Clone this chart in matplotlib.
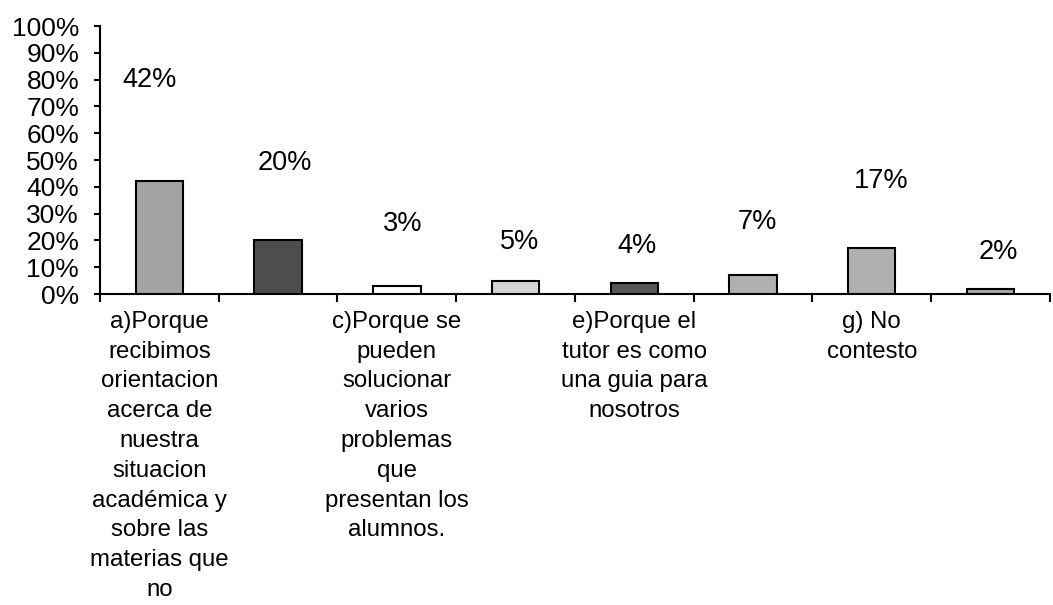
import matplotlib.pyplot as plt
import numpy as np

plt.rcParams['font.family'] = ['Liberation Sans', 'DejaVu Sans']

# data
categories = ['a', 'b', 'c', 'd', 'e', 'f', 'g', 'h']
values = [0.42, 0.20, 0.03, 0.05, 0.04, 0.07, 0.17, 0.02]
tick_labels = [
    "a)Porque\nrecibimos\norientacion\nacerca de\nnuestra\nsituacion\nacadémica y\nsobre las\nmaterias que\nno",
    "",
    "c)Porque se\npueden\nsolucionar\nvarios\nproblemas\nque\npresentan los\nalumnos.",
    "",
    "e)Porque el\ntutor es como\nuna guia para\nnosotros",
    "",
    "g) No\ncontesto",
    "",
]
bar_colors = ['#a3a3a3', '#4d4d4d', '#ffffff', '#d4d4d4', '#585858', '#b0b0b0', '#b0b0b0', '#a8a8a8']

# hand placed value labels (as in the original sheet)
label_y = [0.80, 0.49, 0.26, 0.195, 0.18, 0.27, 0.42, 0.157]
label_dx = [-0.08, 0.06, 0.05, 0.03, 0.02, 0.04, 0.08, 0.07]

fig = plt.figure(figsize=(10.53, 6.05), dpi=100)
ax = fig.add_axes([0.095, 0.514, 0.902, 0.443])

x = np.arange(len(categories))
ax.bar(x, values, width=0.4, color=bar_colors, edgecolor='black', linewidth=1.5, zorder=3)

for i, v in enumerate(values):
    ax.text(x[i] + label_dx[i], label_y[i], f"{round(v * 100)}%", ha='center', va='center', fontsize=19.5)

ax.set_xlim(-0.5, len(categories) - 0.5)
ax.set_ylim(0, 1)
ax.set_yticks(np.arange(0, 1.01, 0.1))
ax.set_yticklabels([f"{int(round(t * 100))}%" for t in np.arange(0, 1.01, 0.1)], fontsize=19)

# boundaries get the tick marks, centers get the labels
ax.set_xticks(np.arange(-0.5, len(categories), 1.0))
ax.set_xticklabels([])
ax.set_xticks(x, minor=True)
ax.set_xticklabels(tick_labels, minor=True, fontsize=17.3, linespacing=1.46)
ax.tick_params(axis='x', which='minor', length=0, pad=12)
ax.tick_params(axis='x', which='major', length=6, width=1.5, direction='out')
ax.tick_params(axis='y', length=4, width=1.5, direction='out', pad=11)

for s in ['top', 'right']:
    ax.spines[s].set_visible(False)
for s in ['left', 'bottom']:
    ax.spines[s].set_linewidth(1.5)

fig.savefig('out.png', dpi=100)
